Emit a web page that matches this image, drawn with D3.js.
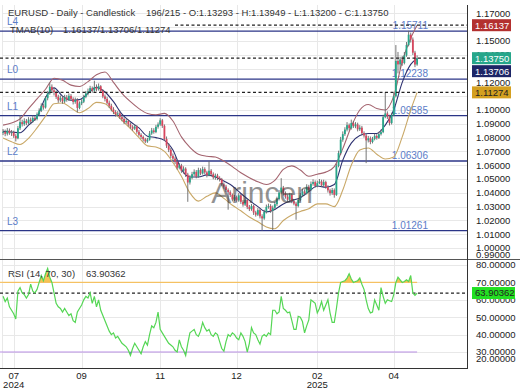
<!DOCTYPE html>
<html>
<head>
<meta charset="utf-8">
<script src="https://cdn.jsdelivr.net/npm/d3@7"></script>
<style>
  body { margin: 0; background: #fff; }
  svg { display: block; font-family: "Liberation Sans", Arial, sans-serif; }
</style>
</head>
<body>
<div id="chart"></div>
<script>
// daily candles, oldest first
var opens = [
  1.0835,1.0842,1.0828,1.0851,1.0832,1.0838,1.0812,1.0795,1.0868,1.0912,
  1.0898,1.0921,1.0905,1.0930,1.0918,1.0942,1.0935,1.0968,1.0995,1.1030,
  1.1018,1.1085,1.1120,1.1168,1.1142,1.1128,1.1095,1.1070,1.1088,1.1062,
  1.1091,1.1075,1.1102,1.1080,1.1058,1.1072,1.1015,1.1048,1.1060,1.1095,
  1.1120,1.1135,1.1158,1.1140,1.1165,1.1150,1.1172,1.1138,1.1098,1.1080,
  1.1052,1.1030,1.1005,1.0985,1.0968,1.0975,1.0948,1.0935,1.0912,1.0920,
  1.0895,1.0878,1.0865,1.0880,1.0842,1.0820,1.0805,1.0788,1.0772,1.0785,
  1.0830,1.0852,1.0840,1.0878,1.0895,1.0925,1.0885,1.0790,1.0742,1.0712,
  1.0668,1.0648,1.0625,1.0582,1.0598,1.0560,1.0575,1.0532,1.0475,1.0510,
  1.0535,1.0552,1.0518,1.0565,1.0540,1.0572,1.0548,1.0528,1.0560,1.0535,
  1.0512,1.0525,1.0508,1.0498,1.0462,1.0445,1.0420,1.0405,1.0385,1.0352,
  1.0368,1.0345,1.0382,1.0335,1.0315,1.0348,1.0298,1.0282,1.0305,1.0258,
  1.0242,1.0275,1.0230,1.0215,1.0262,1.0298,1.0305,1.0270,1.0292,1.0318,
  1.0355,1.0402,1.0438,1.0395,1.0372,1.0350,1.0385,1.0340,1.0322,1.0305,
  1.0348,1.0382,1.0410,1.0395,1.0445,1.0422,1.0465,1.0478,1.0450,1.0470,
  1.0482,1.0455,1.0478,1.0442,1.0418,1.0398,1.0420,1.0385,1.0595,1.0688,
  1.0785,1.0825,1.0858,1.0890,1.0868,1.0905,1.0882,1.0895,1.0860,1.0872,
  1.0832,1.0815,1.0780,1.0795,1.0768,1.0790,1.0812,1.0798,1.0825,1.0840,
  1.0948,1.0975,1.0952,1.0905,1.0962,1.1100,1.1355,1.1330,1.1365,1.1340,
  1.1395,1.1470,1.1545,1.1510,1.1415,1.13293
];
var highs = [
  1.0862,1.0858,1.0870,1.0866,1.0855,1.0850,1.0825,1.0885,1.0962,1.0930,
  1.0940,1.0935,1.0948,1.0945,1.0960,1.0958,1.0982,1.1012,1.1048,1.1045,
  1.1100,1.1138,1.1198,1.1185,1.1160,1.1140,1.1110,1.1105,1.1100,1.1110,
  1.1108,1.1120,1.1115,1.1092,1.1090,1.1085,1.1062,1.1078,1.1110,1.1138,
  1.1155,1.1175,1.1170,1.1212,1.1185,1.1192,1.1180,1.1150,1.1112,1.1095,
  1.1068,1.1045,1.1020,1.0998,1.0992,1.0985,1.0962,1.0948,1.0938,1.0930,
  1.0908,1.0890,1.0895,1.0890,1.0855,1.0832,1.0815,1.0798,1.0798,1.0848,
  1.0870,1.0868,1.0892,1.0910,1.0940,1.0935,1.0895,1.0808,1.0760,1.0725,
  1.0685,1.0662,1.0640,1.0615,1.0610,1.0592,1.0585,1.0545,1.0528,1.0552,
  1.0570,1.0565,1.0582,1.0578,1.0590,1.0585,1.0560,1.0630,1.0572,1.0548,
  1.0540,1.0538,1.0520,1.0508,1.0475,1.0458,1.0432,1.0418,1.0395,1.0385,
  1.0380,1.0398,1.0392,1.0348,1.0362,1.0358,1.0312,1.0320,1.0315,1.0270,
  1.0290,1.0285,1.0245,1.0278,1.0315,1.0322,1.0318,1.0308,1.0335,1.0372,
  1.0420,1.0506,1.0450,1.0410,1.0388,1.0400,1.0395,1.0355,1.0335,1.0362,
  1.0398,1.0428,1.0425,1.0462,1.0458,1.0482,1.0498,1.0490,1.0488,1.0500,
  1.0495,1.0495,1.0488,1.0455,1.0430,1.0435,1.0432,1.0612,1.0705,1.0805,
  1.0845,1.0875,1.0912,1.0902,1.0930,1.0918,1.0912,1.0908,1.0890,1.0885,
  1.0845,1.0828,1.0812,1.0808,1.0805,1.0828,1.0825,1.0842,1.0858,1.0965,
  1.1130,1.0990,1.0965,1.0980,1.1125,1.1470,1.1420,1.1385,1.1390,1.1420,
  1.1492,1.1573,1.1560,1.1525,1.1428,1.13949
];
var lows = [
  1.0818,1.0810,1.0815,1.0820,1.0812,1.0798,1.0772,1.0788,1.0855,1.0880,
  1.0885,1.0890,1.0895,1.0902,1.0908,1.0920,1.0925,1.0955,1.0985,1.1002,
  1.1010,1.1070,1.1110,1.1128,1.1105,1.1080,1.1052,1.1058,1.1045,1.1050,
  1.1060,1.1065,1.1068,1.1040,1.1045,1.0982,1.1005,1.1035,1.1050,1.1085,
  1.1105,1.1122,1.1125,1.1130,1.1135,1.1140,1.1125,1.1085,1.1062,1.1040,
  1.1015,1.0990,1.0970,1.0952,1.0955,1.0935,1.0918,1.0898,1.0900,1.0880,
  1.0865,1.0850,1.0855,1.0828,1.0808,1.0790,1.0772,1.0760,1.0762,1.0778,
  1.0820,1.0828,1.0832,1.0865,1.0885,1.0870,1.0775,1.0725,1.0695,1.0652,
  1.0632,1.0608,1.0568,1.0570,1.0545,1.0540,1.0515,1.0335,1.0460,1.0498,
  1.0520,1.0505,1.0510,1.0528,1.0532,1.0535,1.0512,1.0520,1.0520,1.0498,
  1.0495,1.0492,1.0482,1.0448,1.0430,1.0405,1.0278,1.0370,1.0338,1.0340,
  1.0330,1.0335,1.0320,1.0300,1.0305,1.0282,1.0268,1.0270,1.0240,1.0228,
  1.0232,1.0215,1.0127,1.0205,1.0250,1.0285,1.0255,1.0128,1.0280,1.0305,
  1.0345,1.0390,1.0380,1.0358,1.0335,1.0340,1.0325,1.0310,1.0205,1.0295,
  1.0338,1.0370,1.0380,1.0388,1.0408,1.0412,1.0452,1.0438,1.0440,1.0462,
  1.0442,1.0445,1.0430,1.0402,1.0380,1.0385,1.0365,1.0378,1.0585,1.0675,
  1.0770,1.0812,1.0845,1.0852,1.0858,1.0870,1.0868,1.0845,1.0848,1.0818,
  1.0800,1.0615,1.0765,1.0752,1.0758,1.0780,1.0785,1.0790,1.0815,1.0832,
  1.0940,1.0935,1.0888,1.0895,1.0955,1.1090,1.1265,1.1295,1.1320,1.1330,
  1.1385,1.1460,1.1488,1.1398,1.1310,1.13200
];
var closes = [
  1.0842,1.0828,1.0851,1.0832,1.0838,1.0812,1.0795,1.0868,1.0912,1.0898,
  1.0921,1.0905,1.0930,1.0918,1.0942,1.0935,1.0968,1.0995,1.1030,1.1018,
  1.1085,1.1120,1.1168,1.1142,1.1128,1.1095,1.1070,1.1088,1.1062,1.1091,
  1.1075,1.1102,1.1080,1.1058,1.1072,1.1015,1.1048,1.1060,1.1095,1.1120,
  1.1135,1.1158,1.1140,1.1165,1.1150,1.1172,1.1138,1.1098,1.1080,1.1052,
  1.1030,1.1005,1.0985,1.0968,1.0975,1.0948,1.0935,1.0912,1.0920,1.0895,
  1.0878,1.0865,1.0880,1.0842,1.0820,1.0805,1.0788,1.0772,1.0785,1.0830,
  1.0852,1.0840,1.0878,1.0895,1.0925,1.0885,1.0790,1.0742,1.0712,1.0668,
  1.0648,1.0625,1.0582,1.0598,1.0560,1.0575,1.0532,1.0475,1.0510,1.0535,
  1.0552,1.0518,1.0565,1.0540,1.0572,1.0548,1.0528,1.0560,1.0535,1.0512,
  1.0525,1.0508,1.0498,1.0462,1.0445,1.0420,1.0405,1.0385,1.0352,1.0368,
  1.0345,1.0382,1.0335,1.0315,1.0348,1.0298,1.0282,1.0305,1.0258,1.0242,
  1.0275,1.0230,1.0215,1.0262,1.0298,1.0305,1.0270,1.0292,1.0318,1.0355,
  1.0402,1.0438,1.0395,1.0372,1.0350,1.0385,1.0340,1.0322,1.0305,1.0348,
  1.0382,1.0410,1.0395,1.0445,1.0422,1.0465,1.0478,1.0450,1.0470,1.0482,
  1.0455,1.0478,1.0442,1.0418,1.0398,1.0420,1.0385,1.0595,1.0688,1.0785,
  1.0825,1.0858,1.0890,1.0868,1.0905,1.0882,1.0895,1.0860,1.0872,1.0832,
  1.0815,1.0780,1.0795,1.0768,1.0790,1.0812,1.0798,1.0825,1.0840,1.0948,
  1.0975,1.0952,1.0905,1.0962,1.1100,1.1355,1.1330,1.1365,1.1340,1.1395,
  1.1470,1.1545,1.1510,1.1415,1.1329,1.13750
];

// TMA(10) bands, read at every 4th bar
var bandBars = [0,4,8,12,16,20,24,28,32,36,40,44,48,52,56,60,64,68,72,76,
  80,84,88,92,96,100,104,108,112,116,120,124,128,132,136,140,144,148,152,156,
  160,164,168,172,176,180,184,188,192,195];
var bandUpper = [
  1.0890,1.0905,1.0935,1.1010,1.1080,1.1150,1.1230,1.1215,1.1180,1.1170,
  1.1205,1.1255,1.1275,1.1200,1.1120,1.1060,1.1010,1.0975,1.0965,1.0975,
  1.0920,1.0805,1.0730,1.0680,1.0665,1.0660,1.0630,1.0590,1.0545,1.0510,
  1.0480,1.0460,1.0490,1.0570,1.0595,1.0565,1.0520,1.0535,1.0550,1.0590,
  1.0720,1.0880,1.1000,1.1040,1.1010,1.1000,1.1100,1.1350,1.1520,1.16137
];
var bandMiddle = [
  1.0845,1.0840,1.0835,1.0890,1.0950,1.1090,1.1160,1.1100,1.1070,1.1075,
  1.1120,1.1165,1.1130,1.1060,1.0970,1.0915,1.0870,1.0810,1.0800,1.0780,
  1.0710,1.0570,1.0515,1.0515,1.0530,1.0515,1.0485,1.0450,1.0395,1.0345,
  1.0300,1.0262,1.0280,1.0320,1.0345,1.0365,1.0410,1.0450,1.0440,1.0460,
  1.0637,1.0760,1.0815,1.0830,1.0830,1.0890,1.1000,1.1200,1.1330,1.13706
];
var bandLower = [
  1.0797,1.0770,1.0750,1.0795,1.0870,1.0955,1.1045,1.1050,1.1015,1.0980,
  1.1010,1.1055,1.1045,1.0985,1.0925,1.0865,1.0800,1.0740,1.0732,1.0700,
  1.0620,1.0520,1.0400,1.0340,1.0375,1.0400,1.0360,1.0310,1.0270,1.0225,
  1.0190,1.0153,1.0140,1.0200,1.0240,1.0265,1.0285,1.0320,1.0320,1.0300,
  1.0420,1.0600,1.0710,1.0725,1.0680,1.0645,1.0660,1.0805,1.1000,1.11274
];

// RSI(14), one value per bar
var rsi = [
  62,59,61,56,54,52,49,65,67,64,
  63,61,63,69,65,64,66,70,74,71,
  75,78,73,70,64,58,56,55,53,55,
  53,51,52,48,47,53,55,57,60,62,
  61,64,58,62,56,60,54,51,48,45,
  42,40,41,38,39,37,35,34,33,31,
  28,32,35,33,31,29,33,36,34,40,
  45,44,47,53,43,41,39,37,35,34,
  33,31,30,37,33,31,28,35,41,42,
  43,40,39,42,47,44,42,43,40,39,
  41,40,36,32,30.5,36,40,39,41,40,
  38,37,41,39,36,30,35,44,41,40,
  37,34.5,39,40,39,41,40,54,54,52,
  53,62,55,54,52.5,53,48,43,43,50.5,
  50,47.5,41,45,48.5,60,59,58,52.5,55,
  59,54,57,60,52.5,47,47,55,64,70,
  70.5,71,72.5,75,72,70,70.5,71,72.5,69,
  66,60,55,52.5,53,60,57,54,67,62,
  58,60,59.5,59,63,70,73,71.5,70,70.5,
  71.5,70.5,74,64,62.6,63.90362
];

var levelNames = ['L4', 'L0', 'L1', 'L2', 'L3'];
var levelValues = [1.15711, 1.12238, 1.09585, 1.06306, 1.01261];

// 1.11, 1.13 and 1.16 sit under the value boxes, so they are not labelled
var priceTicks = [0.99,1.00,1.01,1.02,1.03,1.04,1.05,1.06,1.07,1.08,1.09,
  1.10,1.11,1.12,1.13,1.14,1.15,1.16,1.17];
var priceTickLabels = [0.99,1.00,1.01,1.02,1.03,1.04,1.05,1.06,1.07,1.08,1.09,
  1.10,1.12,1.14,1.15,1.17];
var rsiTicks = [20, 30, 40, 50, 60, 70, 80];

var timeTickBars = [5, 37, 74, 110, 148, 184];
var timeTickLabels = ['07', '09', '11', '12', '02', '04'];
var timeTickYears = ['2024', '', '', '', '2025', ''];

var lastBands = [1.16137, 1.13706, 1.11274];
var lastClose = 1.13750;
var lastRsi = 63.90362;

var W = 520, H = 390;
var left = 2, right = 467;
var mainTop = 5, mainBottom = 259;
var rsiTop = 260, rsiBottom = 368;
var fmt5 = d3.format('.5f');
var n = closes.length;

var x = d3.scaleLinear().domain([-0.5, 218.5]).range([left, right]);
var y = d3.scaleLinear().domain([0.9921, 1.1760]).range([mainBottom, mainTop]);
var yr = d3.scaleLinear().domain([20.8, 82.9]).range([rsiBottom, rsiTop]);

var svg = d3.select('#chart').append('svg')
  .attr('width', W)
  .attr('height', H);

// grid
var grid = svg.append('g').attr('stroke', '#e8e8e8').attr('stroke-width', 1);
grid.selectAll('.hg')
  .data(priceTicks.filter(function(d) { return y(d) > mainTop && y(d) < mainBottom; }))
  .enter().append('line')
  .attr('x1', left).attr('x2', right)
  .attr('y1', function(d) { return Math.round(y(d)) + 0.5; })
  .attr('y2', function(d) { return Math.round(y(d)) + 0.5; });
grid.selectAll('.rg')
  .data(rsiTicks.filter(function(d) { return yr(d) > rsiTop && yr(d) < rsiBottom; }))
  .enter().append('line')
  .attr('x1', left).attr('x2', right)
  .attr('y1', function(d) { return Math.round(yr(d)) + 0.5; })
  .attr('y2', function(d) { return Math.round(yr(d)) + 0.5; });
grid.selectAll('.vg')
  .data(timeTickBars)
  .enter().append('line')
  .attr('x1', function(d) { return Math.round(x(d)) + 0.5; })
  .attr('x2', function(d) { return Math.round(x(d)) + 0.5; })
  .attr('y1', mainTop).attr('y2', rsiBottom);
grid.append('line').attr('x1', 2.5).attr('x2', 2.5).attr('y1', mainTop).attr('y2', rsiBottom);

// support / resistance levels
var lv = svg.append('g');
lv.selectAll('line')
  .data(levelValues)
  .enter().append('line')
  .attr('x1', 0).attr('x2', right)
  .attr('y1', function(d) { return y(d); })
  .attr('y2', function(d) { return y(d); })
  .attr('stroke', '#2b3587')
  .attr('stroke-width', 1.3);
lv.selectAll('.lname')
  .data(levelValues)
  .enter().append('text')
  .attr('x', 7)
  .attr('y', function(d) { return y(d) - 6; })
  .attr('font-size', 10)
  .attr('fill', '#5b7cc8')
  .text(function(d, i) { return levelNames[i]; });
lv.selectAll('.lval')
  .data(levelValues)
  .enter().append('text')
  .attr('x', 428)
  .attr('y', function(d) { return y(d) - 2; })
  .attr('text-anchor', 'end')
  .attr('font-size', 10)
  .attr('fill', '#5b7cc8')
  .text(function(d) { return fmt5(d); });

// bands
var bandLine = function(vals) {
  return d3.line()
    .x(function(d, i) { return x(bandBars[i]); })
    .y(function(d) { return y(d); })
    .curve(d3.curveMonotoneX)(vals);
};
svg.append('path').attr('d', bandLine(bandUpper)).attr('fill', 'none').attr('stroke', '#a4646f').attr('stroke-width', 1.1);
svg.append('path').attr('d', bandLine(bandLower)).attr('fill', 'none').attr('stroke', '#c9a867').attr('stroke-width', 1.1);
svg.append('path').attr('d', bandLine(bandMiddle)).attr('fill', 'none').attr('stroke', '#2d3170').attr('stroke-width', 1.1);

// candles
var idx = d3.range(n);
var candles = svg.append('g');
candles.selectAll('.wick')
  .data(idx)
  .enter().append('line')
  .attr('x1', function(i) { return x(i); })
  .attr('x2', function(i) { return x(i); })
  .attr('y1', function(i) { return y(highs[i]); })
  .attr('y2', function(i) { return y(lows[i]); })
  .attr('stroke', '#666')
  .attr('stroke-width', 0.9);
candles.selectAll('.body')
  .data(idx)
  .enter().append('rect')
  .attr('x', function(i) { return x(i) - 0.9; })
  .attr('width', 1.8)
  .attr('y', function(i) { return y(Math.max(opens[i], closes[i])); })
  .attr('height', function(i) { return Math.max(0.8, Math.abs(y(opens[i]) - y(closes[i]))); })
  .attr('fill', function(i) { return closes[i] >= opens[i] ? '#26a68a' : '#d8465e'; });

// current value dashed lines
var dashed = [
  { v: y(lastBands[0]), x1: 175 },
  { v: y(lastClose), x1: 0 },
  { v: y(lastBands[2]), x1: 0 },
  { v: yr(lastRsi), x1: 0 }
];
svg.selectAll('.dash')
  .data(dashed)
  .enter().append('line')
  .attr('x1', function(d) { return d.x1; }).attr('x2', right)
  .attr('y1', function(d) { return d.v; })
  .attr('y2', function(d) { return d.v; })
  .attr('stroke', '#222')
  .attr('stroke-width', 1.3)
  .attr('stroke-dasharray', '3,2.5');

// watermark
svg.append('text')
  .attr('x', 262).attr('y', 203)
  .attr('text-anchor', 'middle')
  .attr('font-size', 30)
  .attr('fill', '#3a3a3a')
  .attr('opacity', 0.55)
  .text('Arincen');

// RSI pane
svg.append('line').attr('x1', 0).attr('x2', x(n - 1))
  .attr('y1', yr(70)).attr('y2', yr(70))
  .attr('stroke', '#f7c56e').attr('stroke-width', 1.2);
svg.append('line').attr('x1', 0).attr('x2', x(n - 1))
  .attr('y1', yr(30)).attr('y2', yr(30))
  .attr('stroke', '#b98fe6').attr('stroke-width', 1.2);

var defs = svg.append('defs');
defs.append('clipPath').attr('id', 'above70').append('rect')
  .attr('x', 0).attr('width', right).attr('y', rsiTop).attr('height', yr(70) - rsiTop);
defs.append('clipPath').attr('id', 'below30').append('rect')
  .attr('x', 0).attr('width', right).attr('y', yr(30)).attr('height', rsiBottom - yr(30));

var rsiArea = function(base) {
  return d3.area()
    .x(function(d, i) { return x(i); })
    .y0(yr(base))
    .y1(function(d) { return yr(d); })(rsi);
};
svg.append('path').attr('d', rsiArea(70)).attr('fill', '#f3b93a').attr('opacity', 0.85).attr('clip-path', 'url(#above70)');
svg.append('path').attr('d', rsiArea(30)).attr('fill', '#5e67c4').attr('opacity', 0.85).attr('clip-path', 'url(#below30)');

svg.append('path')
  .attr('d', d3.line().x(function(d, i) { return x(i); }).y(function(d) { return yr(d); })(rsi))
  .attr('fill', 'none')
  .attr('stroke', '#55d655')
  .attr('stroke-width', 1.2);

// frame
svg.append('line').attr('x1', 0).attr('x2', W).attr('y1', 259.5).attr('y2', 259.5).attr('stroke', '#555');
svg.append('line').attr('x1', 0).attr('x2', right).attr('y1', rsiBottom + 0.5).attr('y2', rsiBottom + 0.5).attr('stroke', '#333');
svg.append('line').attr('x1', right + 0.5).attr('x2', right + 0.5).attr('y1', mainTop).attr('y2', rsiBottom + 1).attr('stroke', '#333');

// right axis labels
var axisText = svg.append('g').attr('font-size', 9.5).attr('fill', '#222');
axisText.selectAll('.pt')
  .data(priceTickLabels)
  .enter().append('text')
  .attr('x', 476)
  .attr('y', function(d) { return Math.min(y(d), mainBottom - 4); })
  .attr('dy', '0.35em')
  .text(function(d) { return fmt5(d); });
axisText.selectAll('.rt')
  .data(rsiTicks)
  .enter().append('text')
  .attr('x', 476)
  .attr('y', function(d) { return Math.min(yr(d), rsiBottom - 9); })
  .attr('dy', '0.35em')
  .text(function(d) { return fmt5(d); });

// value boxes, pushed down when they would collide
var boxes = [
  { v: y(lastBands[0]), t: fmt5(lastBands[0]), bg: '#b3302f', fg: '#fff', w: 39 },
  { v: y(lastClose), t: fmt5(lastClose), bg: '#26a68a', fg: '#fff', w: 39 },
  { v: y(lastBands[1]), t: fmt5(lastBands[1]), bg: '#1c2566', fg: '#fff', w: 39 },
  { v: y(lastBands[2]), t: fmt5(lastBands[2]), bg: '#d4a020', fg: '#222', w: 39 },
  { v: yr(lastRsi), t: fmt5(lastRsi), bg: '#22e022', fg: '#222', w: 43 }
];
var boxH = 12;
for (var b = 1; b < boxes.length; b++) {
  if (boxes[b].v < boxes[b - 1].v + boxH + 1) boxes[b].v = boxes[b - 1].v + boxH + 1;
}
var bx = svg.selectAll('.box').data(boxes).enter().append('g');
bx.append('rect')
  .attr('x', 472).attr('width', function(d) { return d.w; })
  .attr('y', function(d) { return d.v - boxH / 2; }).attr('height', boxH)
  .attr('fill', function(d) { return d.bg; });
bx.append('text')
  .attr('x', 475).attr('y', function(d) { return d.v; })
  .attr('dy', '0.35em')
  .attr('font-size', 9.5)
  .attr('fill', function(d) { return d.fg; })
  .text(function(d) { return d.t; });

// time axis
var tt = svg.append('g').attr('font-size', 9.5).attr('fill', '#222').attr('text-anchor', 'middle');
tt.selectAll('.m')
  .data(timeTickBars)
  .enter().append('text')
  .attr('x', function(d) { return x(d); })
  .attr('y', 379)
  .text(function(d, i) { return timeTickLabels[i]; });
tt.selectAll('.yr')
  .data(timeTickBars)
  .enter().append('text')
  .attr('x', function(d) { return x(d); })
  .attr('y', 388)
  .text(function(d, i) { return timeTickYears[i]; });

// headers
var hd = svg.append('g').attr('font-size', 9.5).attr('fill', '#333');
hd.append('text').attr('x', 8).attr('y', 16).text('EURUSD - Daily - Candlestick');
hd.append('text').attr('x', 146).attr('y', 16)
  .text('196/215 - O:' + fmt5(opens[n - 1]) + ' - H:' + fmt5(highs[n - 1]) +
        ' - L:' + fmt5(lows[n - 1]) + ' - C:' + fmt5(closes[n - 1]));
hd.append('text').attr('x', 10).attr('y', 33).text('TMAB(10)');
hd.append('text').attr('x', 63).attr('y', 33)
  .text(lastBands.map(fmt5).join('/'));
hd.append('text').attr('x', 8).attr('y', 277).text('RSI (14, 70, 30)');
hd.append('text').attr('x', 86).attr('y', 277).text(fmt5(lastRsi));
</script>
</body>
</html>
